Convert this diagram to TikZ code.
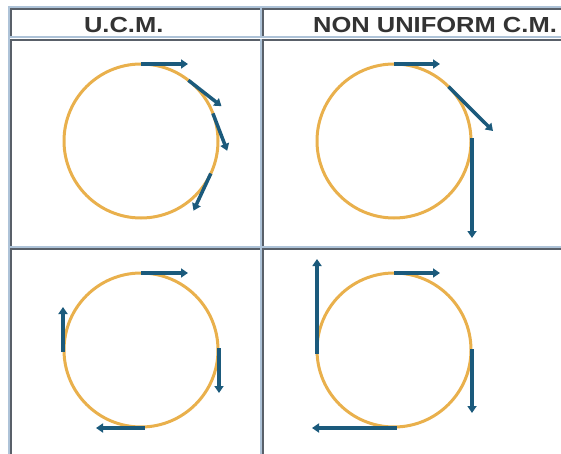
\documentclass[tikz,border=0pt]{standalone}
\usepackage{fontspec}
\usepackage{graphicx}
\setmainfont{Liberation Sans}
\usetikzlibrary{arrows.meta}
\definecolor{bordlight}{HTML}{AEC3D8}
\definecolor{borddark}{HTML}{596069}
\definecolor{ring}{HTML}{E9B04C}
\definecolor{vel}{HTML}{1B5A7C}
\definecolor{hdrtext}{HTML}{333333}
\tikzset{
  light/.style={bordlight, line width=2pt},
  dark/.style={borddark, line width=2pt},
  orbit/.style={ring, line width=3pt},
  velarrow/.style={vel, line width=3.5pt, -{Triangle[length=7pt,width=9pt]}},
  header/.style={anchor=base, inner sep=0pt, text=hdrtext, font=\fontsize{21.8}{24}\selectfont\bfseries}
}
\begin{document}
\begin{tikzpicture}[x=1pt,y=-1pt]
\useasboundingbox (0,0) rectangle (561,454);
\fill[white] (0,0) rectangle (561,454);
% table outer border (light top/left)
\draw[light] (8,7) -- (561,7);
\draw[light] (9,6) -- (9,454);
% cell borders: dark top/left, light bottom/right
% header row
\draw[dark] (10,9) -- (262,9);
\draw[dark] (11,8) -- (11,38);
\draw[light] (10,37) -- (262,37);
\draw[light] (261,8) -- (261,38);
\draw[dark] (262,9) -- (561,9);
\draw[dark] (263,8) -- (263,38);
\draw[light] (262,37) -- (561,37);
% middle row
\draw[dark] (10,40) -- (262,40);
\draw[dark] (11,39) -- (11,248);
\draw[light] (10,247) -- (262,247);
\draw[light] (261,39) -- (261,248);
\draw[dark] (262,40) -- (561,40);
\draw[dark] (263,39) -- (263,248);
\draw[light] (262,247) -- (561,247);
% bottom row
\draw[dark] (10,249) -- (262,249);
\draw[dark] (11,248) -- (11,454);
\draw[light] (261,248) -- (261,454);
\draw[dark] (262,249) -- (561,249);
\draw[dark] (263,248) -- (263,454);
% headers
\node[header] (h1) at (123.7,32.3) {\scalebox{1.17}[1]{U.C.M.}};
\node[header] (h2) at (435,32.3) {\scalebox{1.17}[1]{NON UNIFORM C.M.}};
% circles
\draw[orbit] (141,141) circle[radius=77];
\draw[orbit] (394,141) circle[radius=77];
\draw[orbit] (141,350) circle[radius=77];
\draw[orbit] (394,350) circle[radius=77];
% U.C.M. top
\draw[velarrow] (141,64) -- (188,64);
\draw[velarrow] (188.4,80.3) -- (221.5,106.2);
\draw[velarrow] (212.9,113.4) -- (227.2,150.8);
\draw[velarrow] (210.8,173.5) -- (193.5,210.7);
% non uniform top
\draw[velarrow] (394,64) -- (440,64);
\draw[velarrow] (448.4,86.6) -- (493,131);
\draw[velarrow] (472,138) -- (472,238);
% U.C.M. bottom
\draw[velarrow] (141,273) -- (188,273);
\draw[velarrow] (219,348) -- (219,393);
\draw[velarrow] (145,428) -- (96,428);
\draw[velarrow] (63,352) -- (63,307);
% non uniform bottom
\draw[velarrow] (394,273) -- (440,273);
\draw[velarrow] (472,349) -- (472,413);
\draw[velarrow] (397,428) -- (312,428);
\draw[velarrow] (317,354) -- (317,259);
\end{tikzpicture}
\end{document}
